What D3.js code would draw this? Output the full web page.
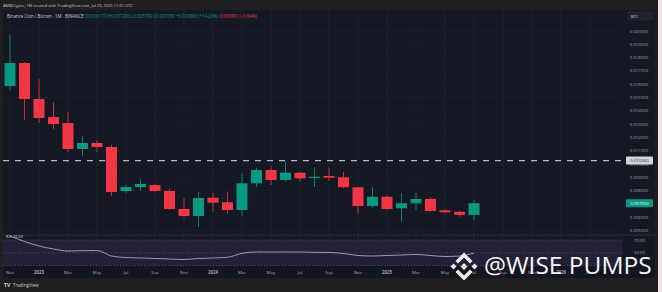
<!DOCTYPE html>
<html>
<head>
<meta charset="utf-8">
<script src="https://cdn.jsdelivr.net/npm/d3@7"></script>
<style>
  body { margin: 0; background: #201f1f; }
  svg { display: block; font-family: "Open Sans", sans-serif; }
</style>
</head>
<body>
<div id="chart"></div>
<script>
// monthly BNB/BTC candles, Nov 2022 - Jul 2025
const months = ["2022-11","2022-12","2023-01","2023-02","2023-03","2023-04","2023-05","2023-06","2023-07","2023-08","2023-09","2023-10","2023-11","2023-12",
  "2024-01","2024-02","2024-03","2024-04","2024-05","2024-06","2024-07","2024-08","2024-09","2024-10","2024-11","2024-12",
  "2025-01","2025-02","2025-03","2025-04","2025-05","2025-06","2025-07"];
const open  = [0.01586,0.01759,0.01489,0.01353,0.01308,0.01113,0.01158,0.01128,0.00797,0.00827,0.00842,0.00797,0.00662,0.00609,
  0.00747,0.00712,0.00654,0.00855,0.00955,0.00880,0.00935,0.00895,0.00910,0.00900,0.00825,0.00684,
  0.00754,0.00667,0.00705,0.00737,0.00652,0.00641,0.00617];
const high  = [0.01970,0.01767,0.01639,0.01466,0.01391,0.01211,0.01180,0.01143,0.00842,0.00887,0.00850,0.00812,0.00744,0.00789,
  0.00784,0.00792,0.00930,0.00972,0.00985,0.01017,0.00942,0.00975,0.00975,0.00942,0.00829,0.00825,
  0.00767,0.00780,0.00784,0.00750,0.00659,0.00647,0.00729];
const low   = [0.01556,0.01331,0.01308,0.01263,0.01090,0.01060,0.01090,0.00759,0.00782,0.00797,0.00789,0.00654,0.00601,0.00526,
  0.00641,0.00629,0.00609,0.00829,0.00842,0.00867,0.00867,0.00829,0.00874,0.00817,0.00624,0.00667,
  0.00654,0.00566,0.00654,0.00641,0.00629,0.00604,0.00579];
const close = [0.01759,0.01489,0.01346,0.01301,0.01113,0.01158,0.01128,0.00789,0.00827,0.00850,0.00797,0.00662,0.00609,0.00744,
  0.00709,0.00654,0.00855,0.00955,0.00880,0.00935,0.00892,0.00904,0.00897,0.00825,0.00684,0.00754,
  0.00662,0.00705,0.00737,0.00647,0.00637,0.00617,0.00705];
const rsi = [76.3,67.6,60.6,55.9,52.7,53.2,53.5,44.9,42.5,41.8,41.0,40.2,39.4,41.0,
  41.8,42.9,49.1,51.2,51.2,51.2,51.2,50.7,50.4,48.8,45.7,44.9,
  45.7,46.5,47.3,45.7,44.1,44.9,49.6];

const timeTicks = ["Nov","2023","Mar","May","Jul","Sep","Nov","2024","Mar","May","Jul","Sep","Nov","2025","Mar","May","Jul","Sep","Nov","2026","Mar"];
const priceTicks = [0.020,0.019,0.018,0.017,0.016,0.015,0.014,0.013,0.012,0.011,0.010,0.009,0.008,0.007,0.006,0.005];
const rsiTicks = [70, 50];
const levelLine = 0.01026;

const width = 662;
const height = 292;
const up = "#089981";
const down = "#f23645";
const fmt = d3.format(".6f");

const svg = d3.select("#chart")
  .append("svg")
  .attr("width", width)
  .attr("height", height);

const x = d3.scaleLinear().domain([0, 42]).range([10, 10 + 42 * 14.5]);
const y = d3.scaleLinear().domain([0.005, 0.020]).range([230.5, 31]);
const r = d3.scaleLinear().domain([30, 70]).range([265.5, 240]);

// header
svg.append("text")
  .attr("x", 3).attr("y", 6.5)
  .style("font-size", "4px").style("fill", "#c9c9c9")
  .text("AMBCrypto, 1M created with TradingView.com, Jul 29, 2025 11:01 UTC");

// panel
svg.append("rect").attr("x", 3).attr("y", 10).attr("width", 652).attr("height", 268).attr("fill", "#141823");
svg.append("rect").attr("x", 658).attr("y", 0).attr("width", 4).attr("height", height).attr("fill", "#ede5e5");

// grid
svg.selectAll(".vgrid")
  .data(timeTicks)
  .enter()
  .append("line")
  .attr("x1", (d, i) => x(i * 2)).attr("x2", (d, i) => x(i * 2))
  .attr("y1", 10).attr("y2", 266)
  .attr("stroke", "#1c202c");

svg.selectAll(".hgrid")
  .data(priceTicks)
  .enter()
  .append("line")
  .attr("x1", 3).attr("x2", 622)
  .attr("y1", d => y(d)).attr("y2", d => y(d))
  .attr("stroke", "#1a1e2a");

// price axis labels
svg.selectAll(".plabel")
  .data(priceTicks)
  .enter()
  .append("text")
  .attr("x", 639).attr("y", d => y(d) + 1.5)
  .attr("text-anchor", "middle")
  .style("font-size", "4.3px").style("fill", "#a4a8b2")
  .text(d => fmt(d));

// legend
const legend = svg.append("text").attr("x", 7).attr("y", 17.5).style("font-size", "4.4px");
const last = close.length - 1;
const chg = close[last] - close[last - 1];
legend.append("tspan").style("fill", "#c9ccd4").text("Binance Coin / Bitcoin · 1M · BINANCE  ");
legend.append("tspan").style("fill", up)
  .text(`O${fmt(open[last])} H${fmt(high[last])} L${fmt(low[last])} C${fmt(close[last])} +${fmt(chg)} (+${(chg / close[last - 1] * 100).toFixed(2)}%)  `);
legend.append("tspan").style("fill", down).text("0.006991 (−0.84%)");

svg.append("rect").attr("x", 628).attr("y", 12).attr("width", 25).attr("height", 8)
  .attr("fill", "#1e222d").attr("stroke", "#2a2e39").attr("stroke-width", 0.5);
svg.append("text").attr("x", 631).attr("y", 17.5).style("font-size", "4px").style("fill", "#c9ccd4").text("BTC");

// dashed level
svg.append("line")
  .attr("x1", 3).attr("x2", 624)
  .attr("y1", y(levelLine)).attr("y2", y(levelLine))
  .attr("stroke", "#b9bcc4").attr("stroke-width", 1.3).attr("stroke-dasharray", "6,6");

// candles
const candles = svg.selectAll(".candle")
  .data(months)
  .enter()
  .append("g");

candles.append("line")
  .attr("x1", (d, i) => x(i)).attr("x2", (d, i) => x(i))
  .attr("y1", (d, i) => y(high[i])).attr("y2", (d, i) => y(low[i]))
  .attr("stroke", (d, i) => close[i] >= open[i] ? up : down)
  .attr("stroke-width", 0.8);

candles.append("rect")
  .attr("x", (d, i) => x(i) - 5.5)
  .attr("width", 11)
  .attr("y", (d, i) => y(Math.max(open[i], close[i])))
  .attr("height", (d, i) => Math.max(1.2, Math.abs(y(open[i]) - y(close[i]))))
  .attr("fill", (d, i) => close[i] >= open[i] ? up : down);

// price tags
svg.append("rect").attr("x", 626).attr("y", y(levelLine) - 4).attr("width", 27).attr("height", 8).attr("rx", 1).attr("fill", "#d1d4dc");
svg.append("text").attr("x", 639.5).attr("y", y(levelLine) + 1.5).attr("text-anchor", "middle")
  .style("font-size", "4.3px").style("fill", "#131722").text(fmt(levelLine));
svg.append("rect").attr("x", 626).attr("y", y(close[last]) - 4).attr("width", 27).attr("height", 8).attr("rx", 1).attr("fill", up);
svg.append("text").attr("x", 639.5).attr("y", y(close[last]) + 1.5).attr("text-anchor", "middle")
  .style("font-size", "4.3px").style("fill", "#ffffff").text(fmt(close[last]));

// RSI pane
svg.append("line").attr("x1", 3).attr("x2", 655).attr("y1", 235).attr("y2", 235).attr("stroke", "#2a2e39");
svg.append("rect").attr("x", 3).attr("y", r(70)).attr("width", 619).attr("height", r(30) - r(70)).attr("fill", "#241f38");
svg.selectAll(".rband")
  .data([70, 50, 30])
  .enter()
  .append("line")
  .attr("x1", 3).attr("x2", 622)
  .attr("y1", d => r(d)).attr("y2", d => r(d))
  .attr("stroke", "#6d6f80").attr("stroke-width", 0.6).attr("stroke-dasharray", "1,2");

svg.append("path")
  .datum(rsi)
  .attr("fill", "none")
  .attr("stroke", "#b9b9c6")
  .attr("stroke-width", 0.8)
  .attr("d", d3.line().x((d, i) => x(i)).y(d => r(d)).curve(d3.curveMonotoneX));

svg.append("text").attr("x", 6).attr("y", 237.8).style("font-size", "4px").style("fill", "#c9ccd4")
  .text(`RSI ${rsi[last].toFixed(2)}`);

svg.selectAll(".rlabel")
  .data(rsiTicks)
  .enter()
  .append("text")
  .attr("x", 634).attr("y", d => r(d) + 1.5)
  .style("font-size", "4.3px").style("fill", "#a4a8b2")
  .text(d => d.toFixed(2));

// time axis
svg.append("rect").attr("x", 3).attr("y", 266).attr("width", 652).attr("height", 12).attr("fill", "#121620");
svg.selectAll(".tlabel")
  .data(timeTicks)
  .enter()
  .append("text")
  .attr("x", (d, i) => x(i * 2)).attr("y", 273.8)
  .attr("text-anchor", "middle")
  .style("font-size", "4.3px").style("fill", "#a4a8b2")
  .style("font-weight", d => /^\d/.test(d) ? "700" : "400")
  .text(d => d);

// TradingView footer
svg.append("text").attr("x", 4).attr("y", 286.5).style("font-size", "5px").style("font-weight", "700").style("fill", "#d1d4dc").text("TV");
svg.append("text").attr("x", 13).attr("y", 286.5).style("font-size", "4.5px").style("fill", "#c9ccd4").text("TradingView");

// watermark
const cx = 464, cy = 266.5;
const logo = svg.append("g").attr("fill", "#ececec");
const diamond = (dx, dy, s) => [[dx, dy - s], [dx + s, dy], [dx, dy + s], [dx - s, dy]];
[diamond(0, 0, 3.5), diamond(-10.5, 0, 3), diamond(10.5, 0, 3)].forEach(p => {
  logo.append("polygon").attr("points", p.map(q => [cx + q[0], cy + q[1]].join(",")).join(" "));
});
[1, -1].forEach(sgn => {
  const pts = [[-8.5, -5.5], [0, -14], [8.5, -5.5], [6, -3], [0, -9], [-6, -3]];
  logo.append("polygon").attr("points", pts.map(q => [cx + q[0], cy + sgn * q[1]].join(",")).join(" "));
});

svg.append("text")
  .attr("x", 484).attr("y", 274)
  .style("font-size", "24.5px")
  .style("fill", "#f6f6f6")
  .text("@WISE PUMPS");
</script>
</body>
</html>
